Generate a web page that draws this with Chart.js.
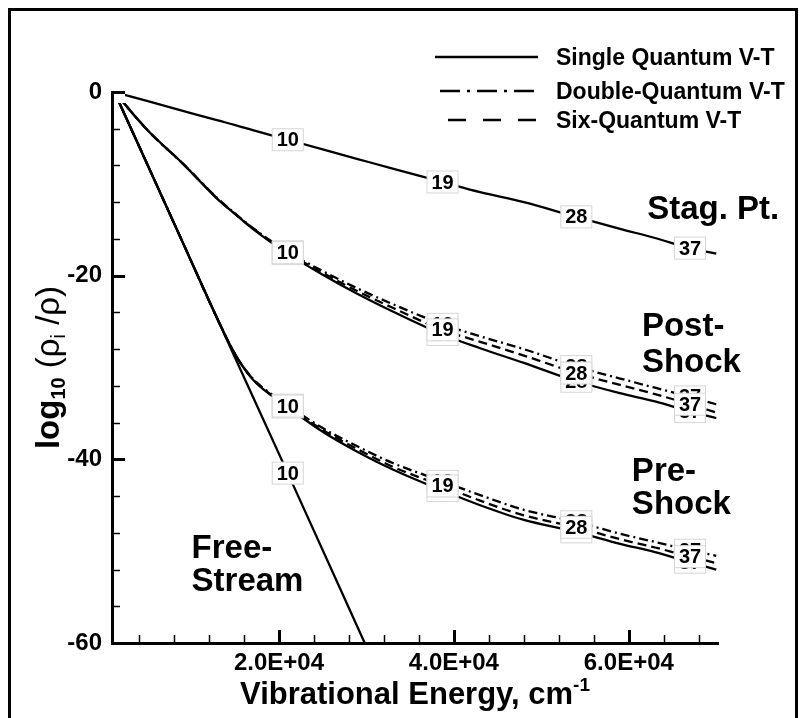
<!DOCTYPE html>
<html lang="en">
<head>
  <meta charset="UTF-8">
  <title>Vibrational level populations</title>
  <script src="https://cdn.jsdelivr.net/npm/chart.js"></script>
  <style>
    body { margin: 0; background: #fff; }
    #wrap { position: relative; width: 803px; height: 718px; }
  </style>
</head>
<body>
  <div id="wrap"><canvas id="chart" width="803" height="718"></canvas></div>

  <script>
    // vibrational energy grid (cm-1), shared by the shock cases
    const energy = [1175, 5000, 9000, 13000, 15000, 17000, 21000, 25000, 29000, 33000, 38700, 43000, 48000, 54000, 59000, 63000, 67000, 70000];

    // log10(rho_i / rho)
    const stagSingle = [0, -1.0, -2.05, -3.1, -3.6, -4.15, -5.2, -6.25, -7.3, -8.35, -9.8, -10.9, -12.0, -13.6, -14.9, -15.9, -17.0, -17.6];

    const postSingle = [0, -4.2, -7.8, -11.7, -13.3, -14.9, -17.6, -19.9, -22.0, -23.9, -26.4, -27.9, -29.5, -31.5, -32.8, -33.7, -34.8, -35.5];
    const postDouble = [0, -4.2, -7.8, -11.6, -13.25, -14.8, -17.4, -19.5, -21.4, -23.1, -25.3, -26.6, -28.0, -29.9, -31.2, -32.2, -33.2, -34.0];
    const postSix    = [0, -4.2, -7.8, -11.65, -13.3, -14.85, -17.5, -19.7, -21.7, -23.5, -25.9, -27.2, -28.7, -30.6, -31.9, -32.9, -34.0, -34.9];

    const preSingle = [0, -8.0, -16.4, -24.8, -28.6, -31.3, -34.3, -37.0, -39.2, -41.1, -43.4, -45.0, -46.6, -47.9, -49.2, -50.1, -51.2, -52.0];
    const preDouble = [0, -8.0, -16.4, -24.8, -28.6, -31.2, -34.1, -36.6, -38.6, -40.4, -42.4, -43.9, -45.5, -46.8, -48.1, -49.0, -49.9, -50.5];
    const preSix    = [0, -8.0, -16.4, -24.8, -28.6, -31.25, -34.2, -36.8, -38.9, -40.8, -42.9, -44.5, -46.1, -47.4, -48.7, -49.6, -50.6, -51.3];

    const freeEnergy = [1175, 15000, 21000, 29800];
    const freeSingle = [0, -29.0, -41.5, -60.0];

    // level tags along the curves (v = 10, 19, 28, 37) -> index into energy[]
    const levelLabels = ['10', '19', '28', '37'];
    const levelIndex = [6, 10, 13, 16];
    const freeLevelIndex = [2];

    const xTickValues = [20000, 40000, 60000];
    const xTickLabels = ['2.0E+04', '4.0E+04', '6.0E+04'];
    const yTickValues = [0, -20, -40, -60];
    const yTickLabels = ['0', '-20', '-40', '-60'];

    const legendNames = ['Single Quantum V-T', 'Double-Quantum V-T', 'Six-Quantum V-T'];

    const FONT = "'Liberation Sans', Arial, Helvetica, sans-serif";
    const dashDot = [9, 4, 2, 4];
    const dashed = [9, 5];

    function series(xs, ys) {
      return xs.map((x, i) => ({ x: x, y: ys[i] }));
    }

    function line(data, dash, tags, tagIdx) {
      return {
        data: data,
        borderColor: '#000',
        borderWidth: 2.3,
        borderDash: dash,
        pointRadius: 0,
        fill: false,
        cubicInterpolationMode: 'monotone',
        tags: tags,
        tagIdx: tagIdx
      };
    }

    // order matters: dash-dot tags first, six-quantum tags end up on top
    const datasets = [
      line(series(energy, stagSingle), [], levelLabels, levelIndex),
      line(series(energy, postDouble), dashDot, levelLabels, levelIndex),
      line(series(energy, postSingle), [], levelLabels, levelIndex),
      line(series(energy, postSix), dashed, levelLabels, levelIndex),
      line(series(energy, preDouble), dashDot, levelLabels, levelIndex),
      line(series(energy, preSingle), [], levelLabels, levelIndex),
      line(series(energy, preSix), dashed, levelLabels, levelIndex),
      line(series(freeEnergy, freeSingle), [], ['10'], freeLevelIndex)
    ];

    // draw a run of text pieces (sub/superscripts) centred on x
    function drawRuns(ctx, runs, x, y) {
      let total = 0;
      runs.forEach(r => {
        ctx.font = (r.w || 'bold') + ' ' + r.size + 'px ' + FONT;
        r.width = ctx.measureText(r.t).width;
        total += r.width;
      });
      let cx = x - total / 2;
      ctx.textAlign = 'left';
      ctx.textBaseline = 'alphabetic';
      runs.forEach(r => {
        ctx.font = (r.w || 'bold') + ' ' + r.size + 'px ' + FONT;
        ctx.fillText(r.t, cx, y + (r.dy || 0));
        cx += r.width;
      });
    }

    const decor = {
      id: 'decor',
      afterDatasetsDraw(chart) {
        const ctx = chart.ctx;
        const xs = chart.scales.x, ys = chart.scales.y;
        const area = chart.chartArea;

        // blank box hiding the common origin of the curves
        ctx.save();
        ctx.fillStyle = '#fff';
        ctx.fillRect(area.left + 2, area.top + 2, 11, 9);
        ctx.restore();

        // level tags
        ctx.save();
        ctx.font = 'bold 20px ' + FONT;
        ctx.textAlign = 'center';
        ctx.textBaseline = 'middle';
        chart.data.datasets.forEach(ds => {
          ds.tagIdx.forEach((idx, k) => {
            const p = ds.data[idx];
            const px = xs.getPixelForValue(p.x);
            const py = ys.getPixelForValue(p.y);
            ctx.fillStyle = '#fff';
            ctx.fillRect(px - 15.5, py - 11, 31, 22);
            ctx.strokeStyle = '#d6d6d6';
            ctx.lineWidth = 1;
            ctx.strokeRect(px - 15.5, py - 11, 31, 22);
            ctx.fillStyle = '#000';
            ctx.fillText(ds.tags[k], px, py + 1);
          });
        });
        ctx.restore();
      },
      afterDraw(chart) {
        const ctx = chart.ctx;
        const xs = chart.scales.x, ys = chart.scales.y;
        const area = chart.chartArea;
        ctx.save();
        ctx.strokeStyle = '#000';

        // inward tick marks
        for (let v = 4000; v <= 68000; v += 4000) {
          const px = Math.round(xs.getPixelForValue(v)) + 0.5;
          const major = v % 20000 === 0;
          ctx.lineWidth = major ? 3 : 1.5;
          ctx.beginPath();
          ctx.moveTo(px, area.bottom);
          ctx.lineTo(px, area.bottom - (major ? 13 : 8));
          ctx.stroke();
        }
        for (let v = 0; v > -60; v -= 4) {
          const py = Math.round(ys.getPixelForValue(v)) + 0.5;
          const major = v % 20 === 0;
          ctx.lineWidth = major ? 3 : 1.5;
          ctx.beginPath();
          ctx.moveTo(area.left, py);
          ctx.lineTo(area.left + (major ? 13 : 8), py);
          ctx.stroke();
        }

        // outer frame
        ctx.lineWidth = 3;
        ctx.beginPath();
        ctx.moveTo(9.5, 730);
        ctx.lineTo(9.5, 9.5);
        ctx.lineTo(796.5, 9.5);
        ctx.lineTo(796.5, 730);
        ctx.stroke();

        // legend
        const legendDash = [[], [20, 7, 3, 7], [18, 17]];
        const rowY = [57, 91, 120];
        const lineX = [[435, 538], [440, 540], [448, 537]];
        ctx.lineWidth = 2.6;
        ctx.fillStyle = '#000';
        ctx.font = 'bold 23px ' + FONT;
        ctx.textAlign = 'left';
        ctx.textBaseline = 'middle';
        legendNames.forEach((name, i) => {
          ctx.setLineDash(legendDash[i]);
          ctx.beginPath();
          ctx.moveTo(lineX[i][0], rowY[i]);
          ctx.lineTo(lineX[i][1], rowY[i]);
          ctx.stroke();
          ctx.setLineDash([]);
          ctx.fillText(name, 556, rowY[i] + 2);
        });

        // case annotations, placed in data units
        const notes = [
          { t: 'Stag. Pt.', x: 62100, y: -12.85 },
          { t: 'Post-', x: 61500, y: -25.6 },
          { t: 'Shock', x: 61500, y: -29.5 },
          { t: 'Pre-', x: 60350, y: -41.4 },
          { t: 'Shock', x: 60350, y: -45.0 },
          { t: 'Free-', x: 10000, y: -49.7 },
          { t: 'Stream', x: 10000, y: -53.4 }
        ];
        ctx.font = 'bold 33px ' + FONT;
        notes.forEach(n => {
          ctx.fillText(n.t, xs.getPixelForValue(n.x), ys.getPixelForValue(n.y));
        });

        // axis titles
        drawRuns(ctx, [
          { t: 'Vibrational Energy, cm', size: 31 },
          { t: '-1', size: 19, dy: -13 }
        ], (area.left + area.right) / 2, 704);

        ctx.translate(59, (area.top + area.bottom) / 2);
        ctx.rotate(-Math.PI / 2);
        drawRuns(ctx, [
          { t: 'log', size: 33 },
          { t: '10', size: 20, dy: 6 },
          { t: ' (\u03c1', size: 33, w: 'normal' },
          { t: 'i', size: 20, w: 'normal', dy: 6 },
          { t: ' /\u03c1)', size: 33, w: 'normal' }
        ], 0, 0);
        ctx.restore();
      }
    };

    const tickFont = { family: FONT, size: 24, weight: 'bold' };

    new Chart(document.getElementById('chart'), {
      type: 'line',
      data: { datasets: datasets },
      options: {
        responsive: false,
        animation: false,
        devicePixelRatio: 1,
        layout: { padding: { left: 0, right: 85, top: 92, bottom: 0 } },
        plugins: {
          legend: { display: false },
          tooltip: { enabled: false }
        },
        scales: {
          x: {
            type: 'linear',
            min: 900,
            max: 70200,
            grid: { display: false, drawTicks: false },
            border: { display: true, color: '#000', width: 3 },
            afterBuildTicks: s => { s.ticks = xTickValues.map(v => ({ value: v })); },
            afterFit: s => { s.height = 75; },
            ticks: {
              autoSkip: false,
              maxRotation: 0,
              padding: 6,
              color: '#000',
              font: tickFont,
              callback: v => xTickLabels[xTickValues.indexOf(v)]
            }
          },
          y: {
            type: 'linear',
            min: -60,
            max: 0,
            grid: { display: false, drawTicks: false },
            border: { display: true, color: '#000', width: 3 },
            afterBuildTicks: s => { s.ticks = yTickValues.map(v => ({ value: v })); },
            afterFit: s => { s.width = 112; },
            ticks: {
              autoSkip: false,
              padding: 10,
              color: '#000',
              font: tickFont,
              callback: v => yTickLabels[yTickValues.indexOf(v)]
            }
          }
        }
      },
      plugins: [decor]
    });
  </script>
</body>
</html>
